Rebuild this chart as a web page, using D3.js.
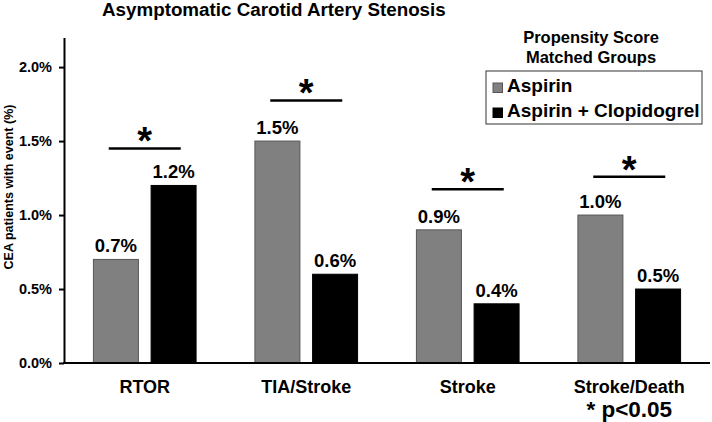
<!DOCTYPE html>
<html>
<head>
<meta charset="utf-8">
<script src="https://cdn.jsdelivr.net/npm/d3@7"></script>
<style>
  body { margin: 0; background: #fff; }
  text { font-family: "Liberation Sans", Arial, sans-serif; font-weight: bold; fill: #000; }
</style>
</head>
<body>
<div id="chart"></div>
<script>
var categories = ["RTOR", "TIA/Stroke", "Stroke", "Stroke/Death"];
var series = ["Aspirin", "Aspirin + Clopidogrel"];
var aspirin = [0.7, 1.5, 0.9, 1.0];
var aspirinClop = [1.2, 0.6, 0.4, 0.5];
// height of the significance bars, in % units
var sigLevel = [1.45, 1.775, 1.174, 1.259];
var yTicks = [0, 0.5, 1.0, 1.5, 2.0];

var svgWidth = 712;
var svgHeight = 422;
var colors = ["#808080", "#000000"];

var svg = d3.select("#chart")
  .append("svg")
  .attr("width", svgWidth)
  .attr("height", svgHeight);

var x0 = d3.scaleBand()
  .domain(categories)
  .range([64, 710]);

var x1 = d3.scaleBand()
  .domain(series)
  .range([0, x0.bandwidth()])
  .paddingInner(0.22)
  .paddingOuter(0.51);

var y = d3.scaleLinear()
  .domain([0, 2.2])
  .range([363, 37.5]);

var color = d3.scaleOrdinal().domain(series).range(colors);

// title
svg.append("text")
  .attr("x", 102)
  .attr("y", 16)
  .style("font-size", "18.8px")
  .text("Asymptomatic Carotid Artery Stenosis");

// y axis
var leftAxis = d3.axisLeft(y)
  .tickValues(yTicks)
  .tickFormat(d => d.toFixed(1) + "%")
  .tickSizeInner(5)
  .tickSizeOuter(0)
  .tickPadding(7);

var yAxis = svg.append("g")
  .attr("transform", "translate(64,0)")
  .call(leftAxis);
yAxis.select(".domain").attr("stroke", "#000").attr("stroke-width", 2);
yAxis.selectAll(".tick line").attr("stroke", "#000").attr("stroke-width", 2);
yAxis.selectAll(".tick text")
  .attr("font-family", null)
  .style("font-size", "14.5px");

svg.append("text")
  .attr("transform", "translate(13,187) rotate(-90)")
  .style("text-anchor", "middle")
  .style("font-size", "12.5px")
  .text("CEA patients with event (%)");

// bars
var rows = categories.map(function(c, i) {
  return { cat: c, vals: [
    { s: series[0], v: aspirin[i] },
    { s: series[1], v: aspirinClop[i] }
  ]};
});

var groups = svg.selectAll(".group")
  .data(rows)
  .enter()
  .append("g")
  .attr("transform", d => `translate(${x0(d.cat)},0)`);

groups.selectAll("rect")
  .data(d => d.vals)
  .enter()
  .append("rect")
  .attr("x", d => x1(d.s))
  .attr("y", d => y(d.v))
  .attr("width", x1.bandwidth())
  .attr("height", d => y(0) - y(d.v))
  .attr("fill", d => color(d.s))
  .attr("stroke", d => d.s === series[0] ? "#555" : "#000")
  .attr("stroke-width", 1);

groups.selectAll(".val")
  .data(d => d.vals)
  .enter()
  .append("text")
  .attr("class", "val")
  .attr("x", d => x1(d.s) + x1.bandwidth() / 2)
  .attr("y", d => y(d.v) - 7)
  .style("text-anchor", "middle")
  .style("font-size", "18.5px")
  .text(d => d.v.toFixed(1) + "%");

// x axis line
svg.append("line")
  .attr("x1", 63)
  .attr("x2", 710)
  .attr("y1", y(0))
  .attr("y2", y(0))
  .attr("stroke", "#000")
  .attr("stroke-width", 2);

svg.selectAll(".cat")
  .data(categories)
  .enter()
  .append("text")
  .attr("class", "cat")
  .attr("x", d => x0(d) + x0.bandwidth() / 2)
  .attr("y", 393)
  .style("text-anchor", "middle")
  .style("font-size", "18px")
  .text(d => d);

// significance markers
var sig = svg.selectAll(".sig")
  .data(categories)
  .enter()
  .append("g")
  .attr("class", "sig");

sig.append("line")
  .attr("x1", d => x0(d) + x0.bandwidth() / 2 - 36)
  .attr("x2", d => x0(d) + x0.bandwidth() / 2 + 36)
  .attr("y1", (d, i) => y(sigLevel[i]))
  .attr("y2", (d, i) => y(sigLevel[i]))
  .attr("stroke", "#000")
  .attr("stroke-width", 2.5);

sig.append("text")
  .attr("x", d => x0(d) + x0.bandwidth() / 2)
  .attr("y", (d, i) => y(sigLevel[i]) + 6)
  .style("text-anchor", "middle")
  .style("font-size", "38px")
  .text("*");

svg.append("text")
  .attr("x", x0("Stroke/Death") + x0.bandwidth() / 2)
  .attr("y", 416.5)
  .style("text-anchor", "middle")
  .style("font-size", "22.5px")
  .text("* p<0.05");

// legend
svg.append("text")
  .attr("x", 591)
  .attr("y", 43)
  .style("text-anchor", "middle")
  .style("font-size", "16.5px")
  .text("Propensity Score");
svg.append("text")
  .attr("x", 591)
  .attr("y", 62.5)
  .style("text-anchor", "middle")
  .style("font-size", "16.5px")
  .text("Matched Groups");

svg.append("rect")
  .attr("x", 486)
  .attr("y", 71)
  .attr("width", 216)
  .attr("height", 53)
  .attr("fill", "#fff")
  .attr("stroke", "#333")
  .attr("stroke-width", 1);

var legendItems = svg.selectAll(".legend")
  .data(series)
  .enter()
  .append("g")
  .attr("transform", (d, i) => `translate(493,${83 + i * 25})`);

legendItems.append("rect")
  .attr("width", 9.5)
  .attr("height", 9.5)
  .attr("fill", d => color(d))
  .attr("stroke", d => d === series[0] ? "#555" : "#000")
  .attr("stroke-width", 1);

legendItems.append("text")
  .attr("x", 14)
  .attr("y", 9)
  .style("font-size", "19px")
  .text(d => d);
</script>
</body>
</html>
